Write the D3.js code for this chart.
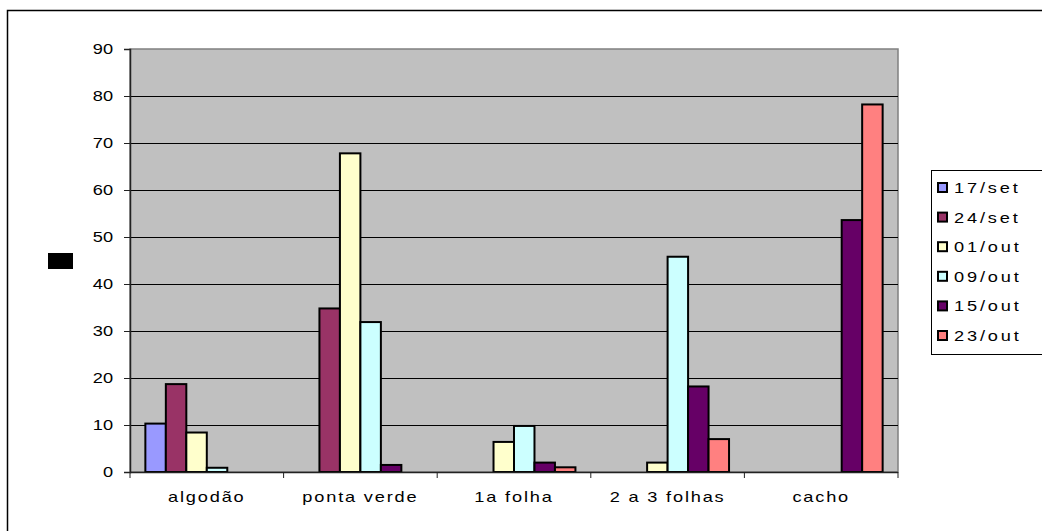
<!DOCTYPE html>
<html>
<head>
<meta charset="utf-8">
<script src="https://cdn.jsdelivr.net/npm/d3@7"></script>
<style>
  html, body { margin: 0; padding: 0; background: #fff; }
  svg { display: block; }
  text { font-family: "Liberation Sans", Arial, sans-serif; fill: #000; }
</style>
</head>
<body>
<svg id="chart" width="1042" height="531"></svg>
<script>
// Stages of the plant and sampling dates
const categories = ["algodão", "ponta verde", "1a folha", "2 a 3 folhas", "cacho"];
const seriesNames = ["17/set", "24/set", "01/out", "09/out", "15/out", "23/out"];
const seriesColors = ["#9999FF", "#993366", "#FFFFCC", "#CCFFFF", "#660066", "#FF8080"];

// One array per sampling date, one value per stage
const v17set = [10.3, 0, 0, 0, 0];
const v24set = [18.7, 34.8, 0, 0, 0];
const v01out = [8.4, 67.8, 6.4, 2.0, 0];
const v09out = [0.9, 31.9, 9.8, 45.8, 0];
const v15out = [0, 1.5, 2.0, 18.2, 53.6];
const v23out = [0, 0, 1.0, 7.0, 78.2];
const seriesValues = [v17set, v24set, v01out, v09out, v15out, v23out];

const yTicks = [0, 10, 20, 30, 40, 50, 60, 70, 80, 90];

// Wide-set type: glyphs stretched horizontally
const STRETCH = 1.3;

const svg = d3.select("#chart");

// Outer chart frame (runs past the right and bottom edges)
svg.append("rect")
  .attr("x", 7.5).attr("y", 10.5)
  .attr("width", 1100).attr("height", 600)
  .attr("fill", "#fff").attr("stroke", "#000").attr("stroke-width", 1.5);

const plot = { left: 130, right: 898, top: 49, bottom: 472 };

const x0 = d3.scaleBand().domain(categories).range([plot.left, plot.right]).paddingInner(0).paddingOuter(0);
const groupPad = 0.1;
const x1 = d3.scaleBand().domain(seriesNames)
  .range([x0.bandwidth() * groupPad, x0.bandwidth() * (1 - groupPad)]);
const y = d3.scaleLinear().domain([0, 90]).range([plot.bottom, plot.top]);

// Plot area background
svg.append("rect")
  .attr("x", plot.left).attr("y", plot.top)
  .attr("width", plot.right - plot.left).attr("height", plot.bottom - plot.top)
  .attr("fill", "#C0C0C0").attr("stroke", "#808080").attr("stroke-width", 1.5);

// Horizontal gridlines
svg.append("g")
  .selectAll("line")
  .data(yTicks.filter(t => t > 0 && t < 90))
  .join("line")
  .attr("x1", plot.left).attr("x2", plot.right)
  .attr("y1", d => Math.round(y(d)) + 0.5).attr("y2", d => Math.round(y(d)) + 0.5)
  .attr("stroke", "#000").attr("stroke-width", 1);

// Bars
const groups = svg.append("g")
  .selectAll("g")
  .data(categories)
  .join("g")
  .attr("transform", d => `translate(${x0(d)},0)`);

groups.selectAll("rect")
  .data((c, ci) => seriesNames.map((s, si) => ({ s, si, v: seriesValues[si][ci] })).filter(d => d.v > 0))
  .join("rect")
  .attr("x", d => x1(d.s))
  .attr("width", x1.bandwidth())
  .attr("y", d => y(d.v))
  .attr("height", d => y(0) - y(d.v))
  .attr("fill", d => seriesColors[d.si])
  .attr("stroke", "#000").attr("stroke-width", 2);

// Y axis
const yAxis = d3.axisLeft(y).tickValues(yTicks).tickSize(6).tickPadding(11).tickFormat(d3.format("d"));
const gy = svg.append("g").attr("transform", `translate(${plot.left},0)`).call(yAxis);
gy.select(".domain").attr("stroke", "#222").attr("stroke-width", 1.5);
gy.selectAll(".tick line").attr("stroke", "#222");
gy.selectAll(".tick text")
  .attr("font-size", 14)
  .attr("font-family", "'Liberation Sans', Arial, sans-serif")
  .attr("x", -17 / STRETCH)
  .attr("transform", `scale(${STRETCH},1)`);

// X axis: ticks between categories
const gx = svg.append("g").attr("transform", `translate(0,${plot.bottom})`);
gx.append("line")
  .attr("x1", plot.left).attr("x2", plot.right)
  .attr("y1", 0.5).attr("y2", 0.5)
  .attr("stroke", "#222").attr("stroke-width", 1.5);
const boundaries = categories.map(c => x0(c)).concat([plot.right]);
gx.selectAll("line.tk")
  .data(boundaries)
  .join("line").attr("class", "tk")
  .attr("x1", d => d).attr("x2", d => d)
  .attr("y1", 0).attr("y2", 6)
  .attr("stroke", "#222");
gx.selectAll("text")
  .data(categories)
  .join("text")
  .attr("transform", d => `translate(${x0(d) + x0.bandwidth() / 2},30) scale(${STRETCH},1)`)
  .attr("text-anchor", "middle")
  .attr("font-size", 14)
  .attr("letter-spacing", 1.4)
  .text(d => d);

// Axis title block
svg.append("rect")
  .attr("x", 48).attr("y", 253).attr("width", 25).attr("height", 16)
  .attr("fill", "#000");

// Legend
const legend = svg.append("g");
legend.append("rect")
  .attr("x", 931.5).attr("y", 170.5).attr("width", 200).attr("height", 184)
  .attr("fill", "#fff").attr("stroke", "#000").attr("stroke-width", 1);

const ly = d3.scalePoint().domain(seriesNames).range([188, 336]);
const items = legend.selectAll("g.item")
  .data(seriesNames)
  .join("g").attr("class", "item")
  .attr("transform", d => `translate(0,${ly(d)})`);
items.append("rect")
  .attr("x", 938).attr("y", -5).attr("width", 9).attr("height", 9)
  .attr("fill", (d, i) => seriesColors[i])
  .attr("stroke", "#000").attr("stroke-width", 2);
items.append("text")
  .attr("transform", `translate(954,5) scale(${STRETCH},1)`)
  .attr("font-size", 14)
  .attr("letter-spacing", 2.2)
  .text(d => d);
</script>
</body>
</html>
